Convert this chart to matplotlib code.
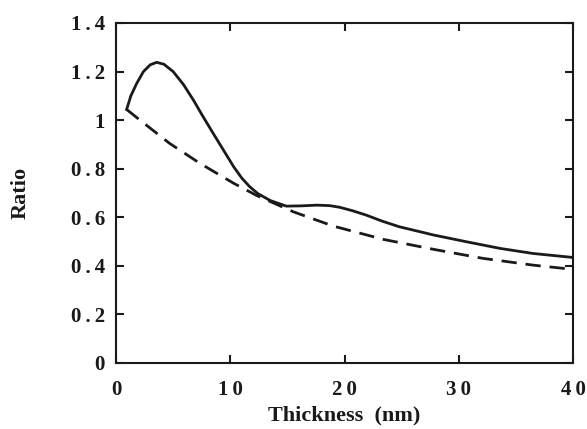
import matplotlib
matplotlib.use('Agg')
import matplotlib.pyplot as plt

# Đường liền (solid)
solid_x = [0.93, 1.3, 1.8, 2.4, 3.0, 3.56, 4.2, 5.0, 5.9, 6.77, 7.6, 8.5, 9.4, 10.3,
           11.0, 11.7, 12.4, 13.5, 14.9, 16.2, 17.6, 18.7, 19.6, 20.7, 21.9, 23.3, 24.8,
           27.8, 30.7, 33.6, 36.5, 39.9]
solid_y = [1.044, 1.10, 1.15, 1.20, 1.228, 1.238, 1.23, 1.20, 1.147, 1.083, 1.016, 0.946,
           0.877, 0.808, 0.762, 0.726, 0.698, 0.669, 0.646, 0.647, 0.650, 0.648, 0.641,
           0.627, 0.609, 0.584, 0.561, 0.527, 0.499, 0.472, 0.451, 0.435]

# Đường nét đứt (dashed)
dash_x = [0.93, 2.1, 4.7, 7.35, 10.3, 12.3, 15.5, 19.0, 23.4, 27.8, 32.1, 36.5, 39.9]
dash_y = [1.044, 1.0, 0.904, 0.822, 0.74, 0.69, 0.623, 0.564, 0.509, 0.468, 0.431, 0.403, 0.386]

x_ticks = [0, 10, 20, 30, 40]
x_labels = ['0', '10', '20', '30', '40']
y_ticks = [0, 0.2, 0.4, 0.6, 0.8, 1.0, 1.2, 1.4]
y_labels = ['0', '0.2', '0.4', '0.6', '0.8', '1', '1.2', '1.4']


def spaced(s):
    # giãn chữ như hình gốc
    return '\u2009'.join(s)


plt.rcParams['font.family'] = ['Liberation Serif', 'DejaVu Serif']
plt.rcParams['font.weight'] = 'bold'

fig = plt.figure(figsize=(5.87, 4.29), dpi=100)
ax = fig.add_axes([116 / 587, 66 / 429, 457 / 587, 340 / 429])

ax.plot(solid_x, solid_y, color='#1a1a1a', linewidth=2.0)
ax.plot(dash_x, dash_y, color='#1a1a1a', linewidth=2.0, dashes=(5.5, 3.2))

ax.set_xlim(0, 40)
ax.set_ylim(0, 1.4)
ax.set_xticks(x_ticks)
ax.set_xticklabels([spaced(s) for s in x_labels])
ax.set_yticks(y_ticks)
ax.set_yticklabels([spaced(s) for s in y_labels])

ax.tick_params(direction='in', length=6, width=1.5, top=True, right=True,
               labelsize=15, colors='#1a1a1a')
ax.tick_params(axis='y', pad=8)
ax.tick_params(axis='x', pad=12)
for sp in ax.spines.values():
    sp.set_linewidth(1.5)
    sp.set_color('#1a1a1a')

ax.set_xlabel('Thickness  (nm)', fontsize=16, fontweight='bold', color='#1a1a1a', labelpad=4)
ax.set_ylabel('Ratio', fontsize=16, fontweight='bold', color='#1a1a1a', labelpad=29)

fig.savefig('out.png', dpi=100)
